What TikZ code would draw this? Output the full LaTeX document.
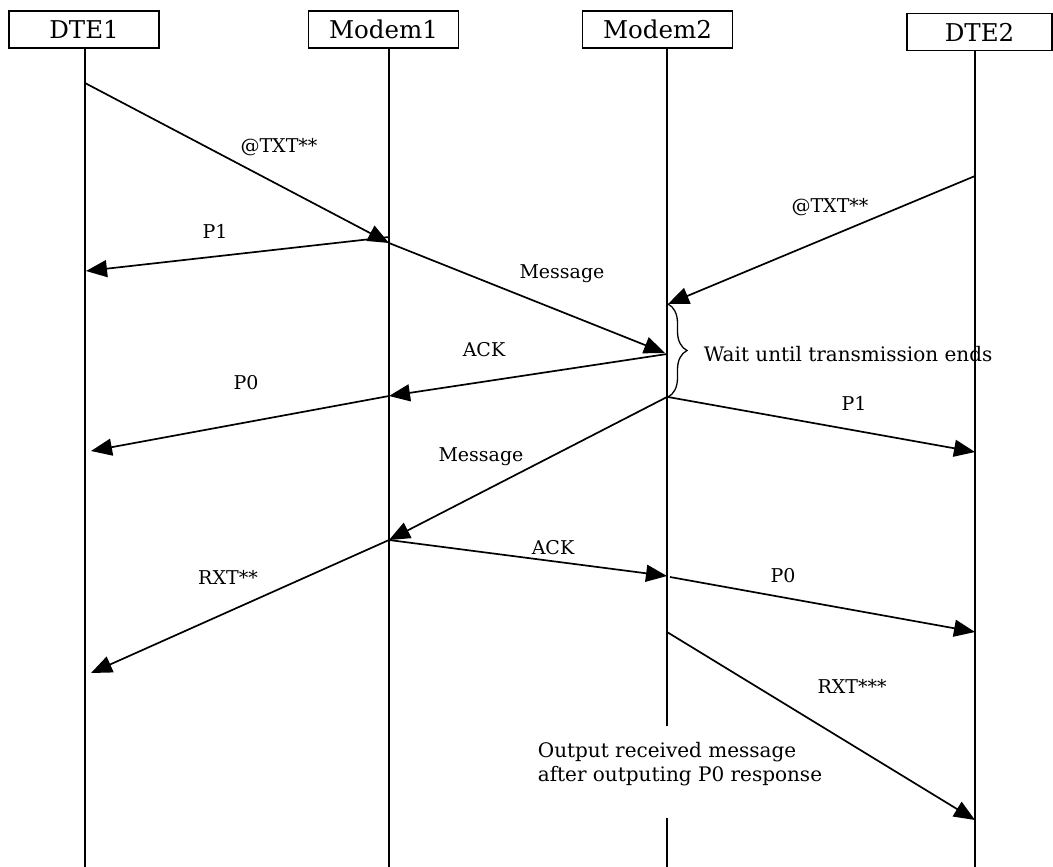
\documentclass[tikz,border=0pt]{standalone}
\usepackage{fontspec}
\setmainfont{DejaVu Serif}
\usetikzlibrary{arrows.meta, decorations.pathreplacing}

\begin{document}
\begin{tikzpicture}[
    x = 1pt, y = -1pt,
    line width = 1.7pt,
    >={Triangle[length = 21pt, width = 17pt]},
    entity/.style = {rectangle,
      draw,
      minimum width = 150pt,
      minimum height = 37pt,
      inner sep = 0pt,
      font = \fontsize{24.5}{28}\selectfont},
    msg/.style = {inner sep = 0pt,
      font = \fontsize{19}{23}\selectfont},
    note/.style = {inner sep = 0pt,
      align = left,
      font = \fontsize{20}{24.5}\selectfont}
    ]
    \useasboundingbox (0, 0) rectangle (1053, 867);

    \node at (84, 29.5) [entity, name = D1] {DTE1};
    \node at (383.5, 29.5) [entity, name = M1] {Modem1};
    \node at (657.5, 29.5) [entity, name = M2] {Modem2};
    \node at (979.5, 32) [entity, minimum width = 145pt, name = D2] {DTE2};

    % lifelines
    \coordinate (D1end) at (85, 867);
    \coordinate (M1end) at (389, 867);
    \coordinate (M2end) at (667, 867);
    \coordinate (D2end) at (975, 867);
    \coordinate (gaptop) at (667, 726);
    \coordinate (gapbot) at (667, 818);
    \draw (D1.south -| D1end) -- (D1end);
    \draw (M1.south -| M1end) -- (M1end);
    \draw (M2.south -| M2end) -- (gaptop);
    \draw (gapbot) -- (M2end);
    \draw (D2.south -| D2end) -- (D2end);

    % event points
    \coordinate (txtA) at (85, 83);
    \coordinate (txtB) at (389, 243);
    \coordinate (pA) at (389, 237);
    \coordinate (pB) at (86, 271);
    \coordinate (msgB) at (665, 353);
    \coordinate (ackA) at (667, 354);
    \coordinate (ackB) at (389, 396);
    \coordinate (poB) at (91, 451);
    \coordinate (txtC) at (975, 176);
    \coordinate (txtD) at (668, 304);
    \coordinate (waitB) at (668, 397);
    \coordinate (prB) at (975, 452);
    \coordinate (msgC) at (667, 397);
    \coordinate (msgD) at (389, 540);
    \coordinate (rxB) at (91, 673);
    \coordinate (ackD) at (667, 576);
    \coordinate (porA) at (670, 577);
    \coordinate (porB) at (975, 632);
    \coordinate (rxxA) at (667, 632);
    \coordinate (rxxB) at (975, 820);

    \draw [->] (txtA) to (txtB);
    \draw [->] (pA) to (pB);
    \draw [->] (txtB) to (msgB);
    \draw [->] (ackA) to (ackB);
    \draw [->] (ackB) to (poB);
    \draw [->] (txtC) to (txtD);
    \draw [->] (waitB) to (prB);
    \draw [->] (msgC) to (msgD);
    \draw [->] (msgD) to (rxB);
    \draw [->] (msgD) to (ackD);
    \draw [->] (porA) to (porB);
    \draw [->] (rxxA) to (rxxB);

    \draw [line width = 1.3pt, decorate,
      decoration = {brace, amplitude = 19pt}] (txtD) -- (waitB);

    \node at (279, 147) [msg, name = ltxtA] {@TXT**};
    \node at (215, 231) [msg, name = lpA] {P1};
    \node at (562, 274) [msg, name = lmsgA] {Message};
    \node at (484, 350) [msg, name = lackA] {ACK};
    \node at (246, 383) [msg, name = lpoA] {P0};
    \node at (830, 207) [msg, name = ltxtC] {@TXT**};
    \node at (854, 403) [msg, name = lprA] {P1};
    \node at (481, 457) [msg, name = lmsgC] {Message};
    \node at (228, 577) [msg, name = lrxA] {RXT**};
    \node at (553, 548) [msg, name = lackC] {ACK};
    \node at (783, 576) [msg, name = lporA] {P0};
    \node at (852, 686) [msg, name = lrxxA] {RXT***};

    \node at (703, 354) [note, anchor = west, name = wait] {Wait until transmission ends};
    \node at (537, 764) [note, anchor = west, name = output]
      {Output received message\\after outputing P0 response};

  \end{tikzpicture}
\end{document}
